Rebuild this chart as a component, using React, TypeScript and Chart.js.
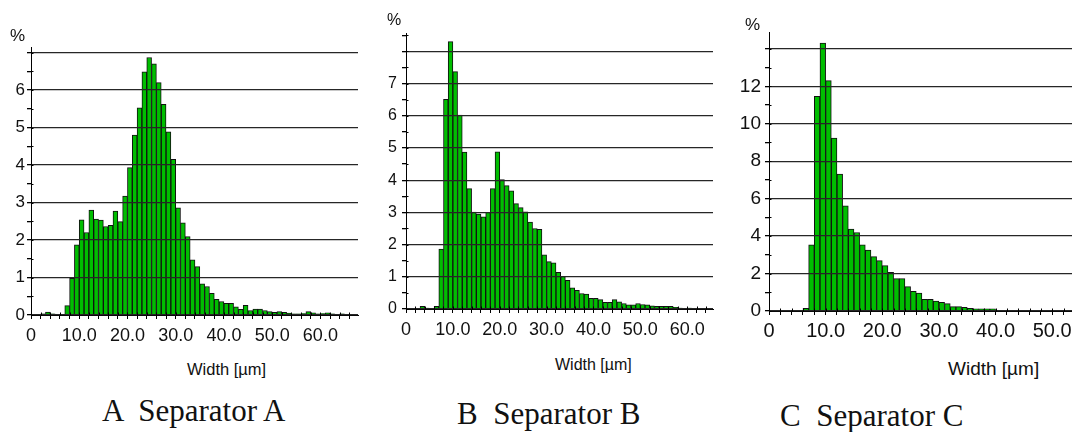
import React, { useEffect, useRef } from 'react';
import { Chart, registerables } from 'chart.js';

Chart.register(...registerables);

// Histogram bins: 1 µm wide, bin i covers [i, i+1) µm. Values in %.
const A_VALUES = [
  0, 0, 0.03, 0.08, 0.03, 0, 0.02, 0.25, 0.98, 1.87,
  2.54, 2.2, 2.8, 2.56, 2.53, 2.36, 2.39, 2.77, 2.49, 3.17,
  3.93, 4.8, 5.53, 6.49, 6.87, 6.7, 6.2, 5.62, 4.89, 4.15,
  2.86, 2.46, 2.09, 1.47, 1.29, 0.83, 0.76, 0.58, 0.42, 0.36,
  0.31, 0.31, 0.22, 0.15, 0.26, 0.12, 0.16, 0.16, 0.12, 0.09,
  0.07, 0.09, 0.07, 0.05, 0.03, 0.03, 0.04, 0.09, 0.06, 0.03,
  0.04, 0.06, 0.03, 0.02, 0.03, 0.02, 0.02,
];

const B_VALUES = [
  0, 0, 0.02, 0.08, 0.03, 0.02, 0.08, 1.86, 6.51, 8.3,
  7.37, 6.02, 4.87, 3.74, 3.01, 2.95, 2.86, 3.0, 3.74, 4.88,
  4.02, 3.83, 3.67, 3.27, 3.15, 3.02, 2.7, 2.5, 2.47, 1.68,
  1.47, 1.43, 1.14, 1.01, 0.89, 0.66, 0.58, 0.48, 0.46, 0.33,
  0.33, 0.29, 0.21, 0.21, 0.29, 0.22, 0.17, 0.13, 0.13, 0.17,
  0.14, 0.13, 0.1, 0.08, 0.08, 0.08, 0.08, 0.05, 0.03, 0.02,
  0.03, 0.02, 0.02, 0.02, 0.02, 0.02,
];

const C_VALUES = [
  0, 0, 0.03, 0.03, 0.03, 0.03, 0.14, 3.53, 11.46, 14.31,
  12.3, 9.23, 7.31, 5.61, 4.37, 4.19, 3.53, 3.26, 2.9, 2.69,
  2.42, 2.07, 1.73, 1.73, 1.3, 1.05, 0.96, 0.62, 0.62, 0.53,
  0.46, 0.39, 0.23, 0.23, 0.2, 0.14, 0.12, 0.12, 0.12, 0.12,
  0.04, 0.04, 0.04, 0.04, 0.04, 0.04, 0.04, 0.04, 0.04, 0.04,
  0.04, 0.04, 0.04, 0.04,
];

const X_LABEL = 'Width [µm]';
const Y_UNIT = '%';
const CAPTIONS = ['A  Separator A', 'B  Separator B', 'C  Separator C'];

const BAR_GREEN = '#00BE00';
const SANS = "'Liberation Sans', Arial, sans-serif";
const NARROW = "'Liberation Sans Narrow', 'Arial Narrow', 'Liberation Sans', Arial, sans-serif";
const SERIF = "'Liberation Serif', 'Times New Roman', serif";

type HistProps = {
  values: number[];
  left: number;
  top: number;
  width: number;
  height: number;
  yAxisWidth: number;
  xAxisHeight: number;
  padTop: number;
  padRight: number;
  xMax: number;
  yMax: number;
  yMinorStep: number;
  yMajorStep: number;
  yTopGrid: number;
  xFontSize: number;
  xFontFamily: string;
  yFontSize: number;
  yPad: number;
  xPad: number;
};

function isMultiple(v: number, step: number) {
  const r = v / step;
  return Math.abs(r - Math.round(r)) < 1e-6;
}

// Small tick marks drawn across the axis lines (the original ticks cross the axes).
const crossTicks = {
  id: 'crossTicks',
  afterDraw(chart: any) {
    const ctx = chart.ctx;
    const xs = chart.scales.x;
    const ys = chart.scales.y;
    ctx.save();
    ctx.strokeStyle = '#000';
    ctx.lineWidth = 1;
    ctx.beginPath();
    const yAxisPix = Math.round(ys.getPixelForValue(0)) + 0.5;
    xs.ticks.forEach((t: any) => {
      const px = Math.round(xs.getPixelForValue(t.value)) + 0.5;
      ctx.moveTo(px, yAxisPix - 3);
      ctx.lineTo(px, yAxisPix);
    });
    const xAxisPix = Math.round(xs.getPixelForValue(0)) + 0.5;
    ys.ticks.forEach((t: any) => {
      const py = Math.round(ys.getPixelForValue(t.value)) + 0.5;
      ctx.moveTo(xAxisPix, py);
      ctx.lineTo(xAxisPix + 2, py);
    });
    ctx.stroke();
    ctx.restore();
  },
};

function Histogram(p: HistProps) {
  const ref = useRef<HTMLCanvasElement | null>(null);
  useEffect(() => {
    if (!ref.current) return;
    const chart = new Chart(ref.current, {
      type: 'bar',
      data: {
        datasets: [
          {
            data: p.values.map((v, i) => ({ x: i + 0.5, y: v })),
            backgroundColor: BAR_GREEN,
            borderColor: '#111',
            borderWidth: 1,
            barPercentage: 1,
            categoryPercentage: 1,
          },
        ],
      },
      options: {
        responsive: false,
        animation: false,
        events: [],
        layout: { padding: { top: p.padTop, right: p.padRight, left: 0, bottom: 0 } },
        plugins: { legend: { display: false }, tooltip: { enabled: false } },
        scales: {
          x: {
            type: 'linear',
            min: 0,
            max: p.xMax,
            offset: false,
            grid: {
              offset: false,
              drawOnChartArea: false,
              color: '#000',
              tickLength: 4,
              z: 1,
            },
            border: { color: '#000', width: 1, z: 1 },
            ticks: {
              stepSize: 2,
              autoSkip: false,
              maxRotation: 0,
              minRotation: 0,
              includeBounds: false,
              padding: p.xPad,
              color: '#111',
              font: { size: p.xFontSize, family: p.xFontFamily },
              callback: (v: any) => {
                const n = Number(v);
                if (Math.abs(n) < 1e-9) return '0';
                if (isMultiple(n, 10)) return n.toFixed(1);
                return '';
              },
            },
            afterFit: (s: any) => {
              s.height = p.xAxisHeight;
            },
          } as any,
          y: {
            type: 'linear',
            min: 0,
            max: p.yMax,
            grid: {
              color: (ctx: any) =>
                ctx.tick && isMultiple(ctx.tick.value, p.yMajorStep) ? '#262626' : 'rgba(0,0,0,0)',
              tickColor: '#000',
              tickLength: 4,
              lineWidth: 1.3,
              z: 1,
            },
            border: { color: '#000', width: 1, z: 1 },
            ticks: {
              stepSize: p.yMinorStep,
              autoSkip: false,
              includeBounds: false,
              padding: p.yPad,
              color: '#111',
              font: { size: p.yFontSize, family: SANS },
              callback: (v: any) => {
                const n = Number(v);
                if (isMultiple(n, p.yMajorStep) && n < p.yTopGrid - 1e-6) return String(Math.round(n));
                return '';
              },
            },
            afterFit: (s: any) => {
              s.width = p.yAxisWidth;
            },
          } as any,
        },
      },
      plugins: [crossTicks],
    });
    return () => chart.destroy();
  }, []);
  return (
    <canvas
      ref={ref}
      width={p.width}
      height={p.height}
      style={{ position: 'absolute', left: p.left, top: p.top, width: p.width, height: p.height }}
    />
  );
}

function TextAt(props: { text: string; left: number; top: number; size: number; family: string }) {
  return (
    <div
      style={{
        position: 'absolute',
        left: props.left,
        top: props.top,
        fontSize: props.size,
        lineHeight: 1,
        fontFamily: props.family,
        whiteSpace: 'pre',
        color: '#111',
      }}
    >
      {props.text}
    </div>
  );
}

export default function App() {
  return (
    <div style={{ position: 'absolute', left: 0, top: 0, width: 1072, height: 432, background: '#fff', overflow: 'hidden' }}>
      <Histogram
        values={A_VALUES}
        left={0}
        top={0}
        width={365}
        height={345}
        yAxisWidth={31}
        xAxisHeight={30}
        padTop={47}
        padRight={7}
        xMax={67.8}
        yMax={7.15}
        yMinorStep={0.5}
        yMajorStep={1}
        yTopGrid={7}
        xFontSize={18}
        xFontFamily={NARROW}
        yFontSize={17}
        yPad={2}
        xPad={6}
      />
      <Histogram
        values={B_VALUES}
        left={375}
        top={0}
        width={345}
        height={340}
        yAxisWidth={31}
        xAxisHeight={31}
        padTop={33}
        padRight={7}
        xMax={65.5}
        yMax={8.57}
        yMinorStep={0.5}
        yMajorStep={1}
        yTopGrid={8}
        xFontSize={18}
        xFontFamily={NARROW}
        yFontSize={16}
        yPad={5}
        xPad={6}
      />
      <Histogram
        values={C_VALUES}
        left={730}
        top={0}
        width={342}
        height={340}
        yAxisWidth={39}
        xAxisHeight={29}
        padTop={32}
        padRight={0}
        xMax={53.5}
        yMax={14.9}
        yMinorStep={1}
        yMajorStep={2}
        yTopGrid={14}
        xFontSize={20}
        xFontFamily={SANS}
        yFontSize={19}
        yPad={4}
        xPad={4}
      />

      <TextAt text={Y_UNIT} left={10} top={27} size={17} family={SANS} />
      <TextAt text={Y_UNIT} left={387} top={12} size={16} family={SANS} />
      <TextAt text={Y_UNIT} left={745} top={16} size={17} family={SANS} />

      <TextAt text={X_LABEL} left={187} top={361} size={16.5} family={SANS} />
      <TextAt text={X_LABEL} left={555} top={357} size={16} family={SANS} />
      <TextAt text={X_LABEL} left={948} top={359} size={19} family={SANS} />

      <TextAt text={CAPTIONS[0]} left={102} top={395} size={31} family={SERIF} />
      <TextAt text={CAPTIONS[1]} left={457} top={398} size={31} family={SERIF} />
      <TextAt text={CAPTIONS[2]} left={780} top={400} size={31} family={SERIF} />
    </div>
  );
}
